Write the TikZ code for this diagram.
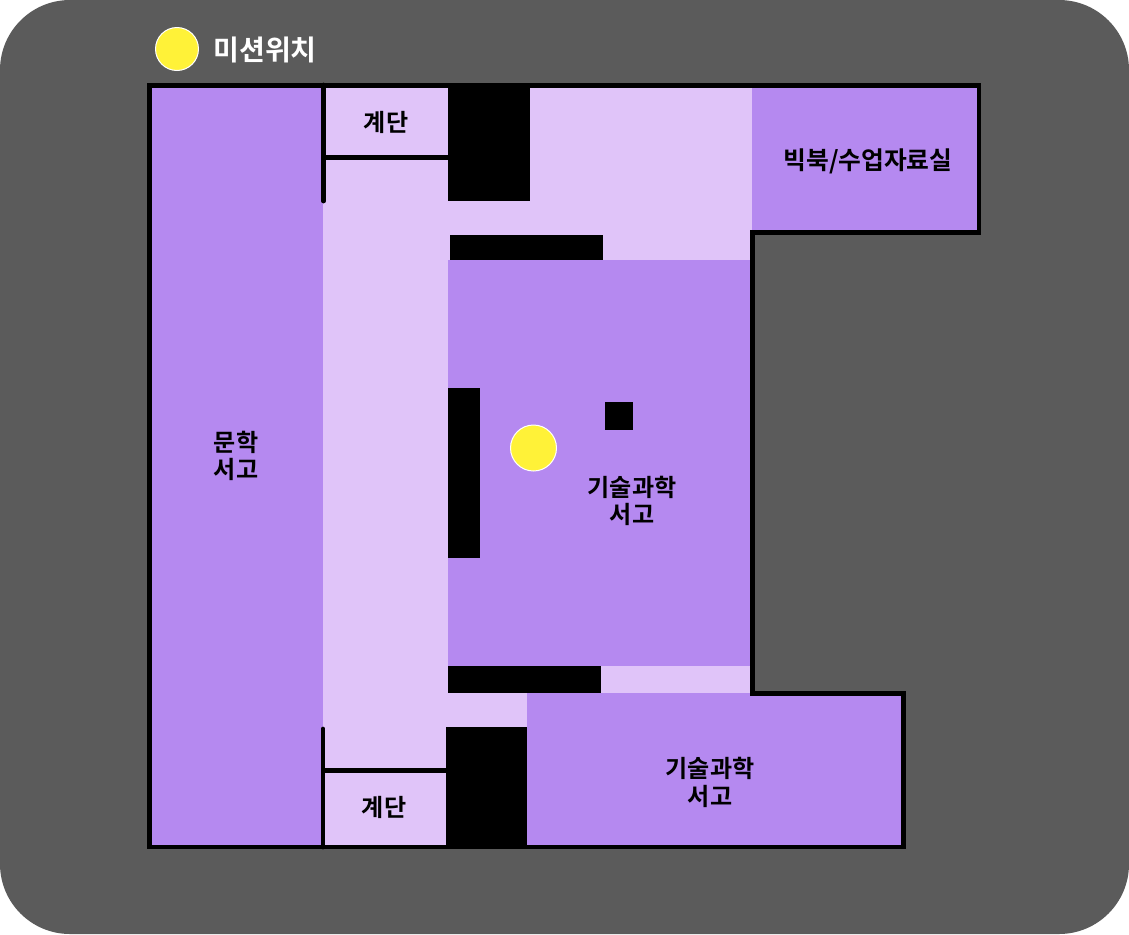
\documentclass[tikz,border=0pt]{standalone}
\usepackage{fontspec}
\setmainfont[BoldFont={Noto Sans CJK KR Bold}]{Noto Sans CJK KR}
\definecolor{bggrey}{HTML}{5B5B5B}
\definecolor{roomdark}{HTML}{B589F0}
\definecolor{roomlight}{HTML}{E0C4F9}
\definecolor{spotyellow}{HTML}{FFF238}
\tikzset{
  label/.style={font=\fontsize{13.7}{15.5}\selectfont\bfseries, align=center, inner sep=0pt},
  wall/.style={line width=0.095cm, line join=miter},
  thinwall/.style={line width=0.095cm, line cap=round},
  spot/.style={circle, fill=spotyellow, draw=white, line width=0.02cm, minimum size=0.92cm, inner sep=0pt}
}
\begin{document}
\begin{tikzpicture}[x=0.02cm, y=-0.02cm]
  \useasboundingbox (0,0) rectangle (1129,934);
  \fill [bggrey, rounded corners=1.4cm] (0,0) rectangle (1129,934);
  % rooms
  \fill [roomlight] (323,85) rectangle (448,847);
  \fill [roomlight] (448,85) rectangle (752,260);
  \fill [roomlight] (448,666) rectangle (752,693);
  \fill [roomlight] (448,693) rectangle (527,727);
  \fill [roomdark] (149,85) rectangle (323,847);
  \fill [roomdark] (752,85) rectangle (979,232);
  \fill [roomdark] (448,260) rectangle (752,666);
  \fill [roomdark] (527,693) rectangle (903,847);
  % blocks
  \fill (448,85) rectangle (530,201);
  \fill (450,235) rectangle (603,260);
  \fill (448,388) rectangle (480,558);
  \fill (605,402) rectangle (633,430);
  \fill (448,666) rectangle (601,693);
  \fill (446,727) rectangle (527,847);
  % walls
  \draw [wall] (149.5,85.5) -- (979,85.5) -- (979,232.5) -- (752.5,232.5) -- (752.5,693.5)
    -- (903.5,693.5) -- (903.5,847) -- (149.5,847) -- cycle;
  \coordinate (stairtop) at (323.5,85);
  \coordinate (stairtopend) at (323.5,201);
  \coordinate (stairtopa) at (323,157.5);
  \coordinate (stairtopb) at (448,157.5);
  \coordinate (stairlow) at (323,729);
  \coordinate (stairlowend) at (323,847);
  \coordinate (stairlowa) at (323,770.5);
  \coordinate (stairlowb) at (446,770.5);
  \draw [thinwall] (stairtop) -- (stairtopend);
  \draw [line width=0.095cm] (stairtopa) -- (stairtopb);
  \draw [thinwall] (stairlow) -- (stairlowend);
  \draw [line width=0.095cm] (stairlowa) -- (stairlowb);
  % markers and labels
  \node [spot, minimum size=0.86cm] (legend) at (177,49) {};
  \node [spot] (mission) at (533.5,448) {};
  \node [label, white, font=\fontsize{16}{18}\selectfont\bfseries] (legendtext) at (265,50) {미션위치};
  \node [label] (stairs1) at (386,122) {계단};
  \node [label] (stairs2) at (384,807) {계단};
  \node [label, font=\fontsize{14.1}{16}\selectfont\bfseries] (ebook) at (868,161) {빅북/수업자료실};
  \node [label] (lit) at (236,456) {문학\\서고};
  \node [label] (tech1) at (632,501) {기술과학\\서고};
  \node [label] (tech2) at (710,782.5) {기술과학\\서고};
\end{tikzpicture}
\end{document}
